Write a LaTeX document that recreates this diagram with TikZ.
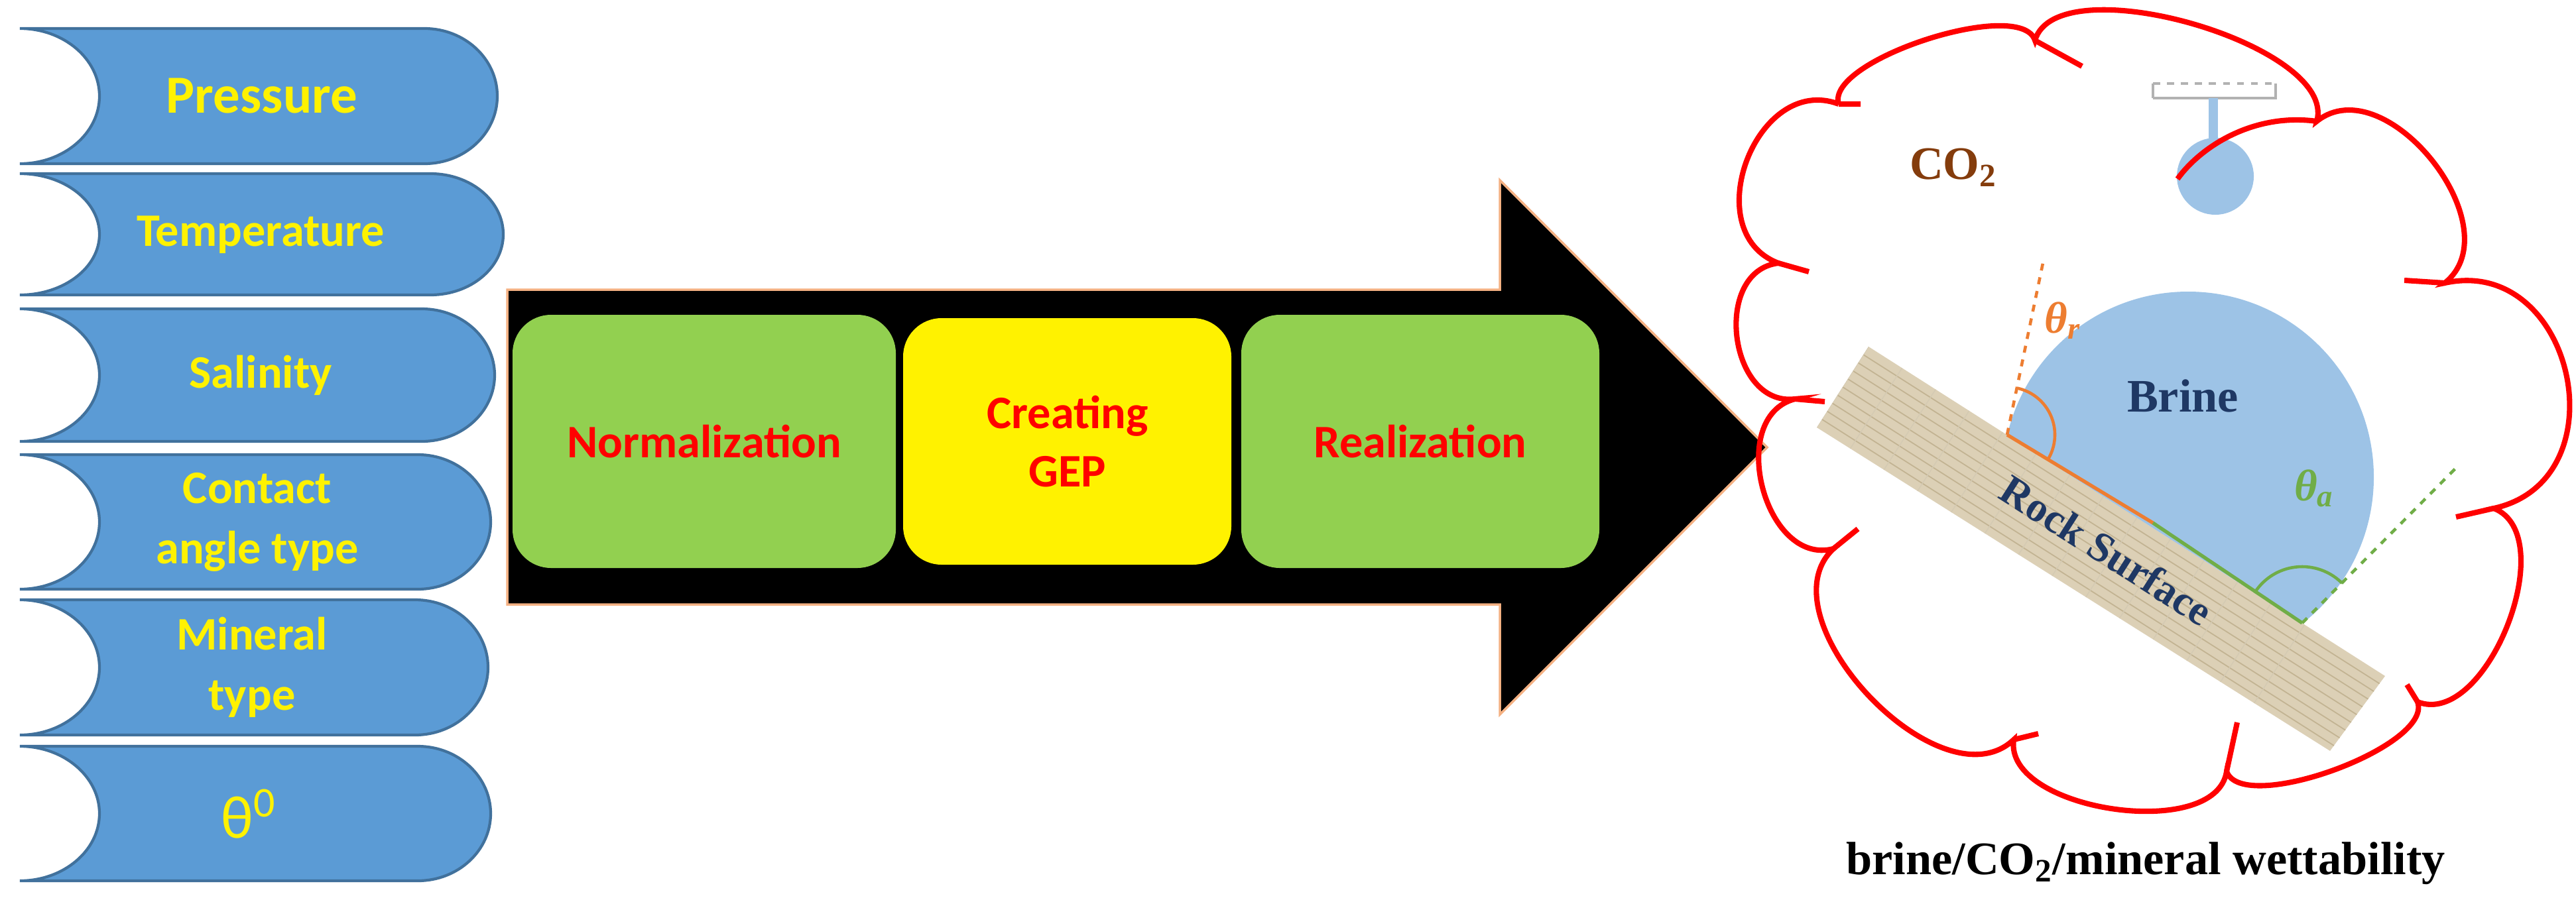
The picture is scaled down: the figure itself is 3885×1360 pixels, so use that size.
\documentclass[tikz,border=0pt]{standalone}
\usepackage{fontspec}
\usetikzlibrary{calc}
\setmainfont{Carlito}
\newfontfamily\tnr{Liberation Serif}
\definecolor{inblue}{HTML}{5B9BD5}
\definecolor{inedge}{HTML}{41719C}
\definecolor{boxgreen}{HTML}{92D050}
\definecolor{peach}{HTML}{F4B183}
\definecolor{dropblue}{HTML}{9DC3E6}
\definecolor{navy}{HTML}{1F3864}
\definecolor{co2brown}{HTML}{843C0C}
\definecolor{orng}{HTML}{ED7D31}
\definecolor{grn}{HTML}{70AD47}
\definecolor{rock}{HTML}{DCD0B6}
\definecolor{rockline}{HTML}{C2B392}
\newcommand\myinshape[3]{%
  \pgfmathsetmacro\mM{(#1+#2)/2}\pgfmathsetmacro\mH{(#2-#1)/2*0.55}%
  \path[inshape] (30,#1) -- (#3-110,#1) .. controls (#3-49,#1) and (#3,\mM-\mH) .. (#3,\mM)
    .. controls (#3,\mM+\mH) and (#3-49,#2) .. (#3-110,#2) -- (30,#2)
    .. controls (96,#2) and (150,\mM+\mH) .. (150,\mM)
    .. controls (150,\mM-\mH) and (96,#1) .. cycle;}
\begin{document}
\begin{tikzpicture}[x=0.01cm,y=-0.01cm,
  inshape/.style={fill=inblue,draw=inedge,line width=1.2pt},
  inlabel/.style={text=yellow,font=\bfseries\fontsize{20}{26}\selectfont,align=center},
  stepbox/.style={rounded corners=0.58cm},
  steplabel/.style={text=red,font=\bfseries\fontsize{20}{25}\selectfont,align=center},
  cloud/.style={draw=red,line width=2.3pt},
  serifbold/.style={font=\tnr\bfseries\fontsize{20}{24}\selectfont}]
\useasboundingbox (0,0) rectangle (3885,1360);
% input shapes
\myinshape{43}{247}{750}
\myinshape{262}{445}{759}
\myinshape{466}{666}{746}
\myinshape{686}{889}{740}
\myinshape{905}{1109}{736}
\myinshape{1126}{1329}{740}
\node[inlabel,font=\bfseries\fontsize{23}{28}\selectfont] (p1) at (395,145) {Pressure};
\node[inlabel] (p2) at (393,354) {Temperature};
\node[inlabel] (p3) at (393,566) {Salinity};
\node[inlabel] (p4) at (388,788) {Contact\\angle type};
\node[inlabel] (p5) at (380,1007) {Mineral\\type};
\node[inlabel,font=\fontsize{26}{30}\selectfont] (p6) at (375,1228) {θ\textsuperscript{0}};
% big arrow
\draw[fill=black,draw=peach,line width=1pt] (765,437) -- (2262,437) -- (2262,272) -- (2665,675)
  -- (2262,1078) -- (2262,912) -- (765,912) -- cycle;
\fill[boxgreen,stepbox] (773,475) rectangle (1351,857);
\fill[yellow,stepbox] (1362,480) rectangle (1857,852);
\fill[boxgreen,stepbox] (1872,475) rectangle (2412,857);
\node[steplabel] (s1) at (1062,666) {Normalization};
\node[steplabel] (s2) at (1610,666) {Creating\\GEP};
\node[steplabel] (s3) at (2142,666) {Realization};
% rock slab
\begin{scope}
\clip (2818,523) -- (3597,1020) -- (3514,1133) -- (2740,645) -- cycle;
\fill[rock] (2700,400) rectangle (3700,1200);
\foreach \t in {0.1,0.2,...,0.95}{
  \draw[rockline,line width=0.5pt] ($(2818,523)!\t!(2740,645)$) -- ++(800,510);}
\foreach \s in {0,60,...,800}{
  \draw[rockline!70,line width=0.4pt] (2818+\s*0.843,523+\s*0.538) -- ++(-90,140);}
\end{scope}
% brine drop
\begin{scope}
\clip (2700,448) -- (3900,1213) -- (3900,0) -- (2700,0) -- cycle;
\fill[dropblue] (3300,720) circle[radius=280];
\end{scope}
\coordinate (cr) at (3027,656);
\coordinate (ca) at (3472,940);
\draw[orng,line width=1.5pt] (cr) -- (3247,789);
\draw[grn,line width=1.5pt] (3247,789) -- (ca);
\draw[orng,line width=1.3pt,dashed] (cr) -- (3082,392);
\draw[orng,line width=1.3pt] ($(cr)+(-78:72)$) arc[start angle=-78,end angle=32.5,radius=72];
\draw[grn,line width=1.3pt,dashed] (ca) -- (3704,706);
\draw[grn,line width=1.3pt] ($(ca)+(-45:85)$) arc[start angle=-45,end angle=-147.5,radius=85];
\node[serifbold,text=navy] (brine) at (3292,597) {Brine};
\node[serifbold,text=orng,font=\tnr\bfseries\itshape\fontsize{19}{22}\selectfont] (thr) at (3111,484) {θ\textsubscript{r}};
\node[serifbold,text=grn,font=\tnr\bfseries\itshape\fontsize{19}{22}\selectfont] (tha) at (3490,737) {θ\textsubscript{a}};
\node[serifbold,text=navy,font=\tnr\bfseries\fontsize{18}{22}\selectfont,rotate=-32.5] (rs) at (3177,830) {Rock Surface};
% small drop and holder
\draw[gray!60,line width=1pt] (3247,148) -- (3247,126) (3432,126) -- (3432,148) -- (3247,148);
\draw[gray!60,line width=1pt,dashed] (3247,126) -- (3432,126);
\draw[dropblue,line width=4pt] (3338,148) -- (3338,212);
\fill[dropblue] (3341,266) circle[radius=58];
\node[serifbold,text=co2brown] (co2) at (2946,253) {CO\textsubscript{2}};
% cloud
\coordinate (J1) at (2773,157); \coordinate (J2) at (3069,61); \coordinate (J3) at (3494,183);
\coordinate (J4) at (3687,427); \coordinate (J5) at (3761,767); \coordinate (J6) at (3646,1059);
\coordinate (J7) at (3358,1164); \coordinate (J8) at (3037,1116); \coordinate (J9) at (2765,828);
\coordinate (J10) at (2707,602); \coordinate (J11) at (2682,397);
\draw[cloud] (J1) .. controls (2752,91) and (3048,-5) .. (J2)
  .. controls (3102,-54) and (3527,68) .. (J3)
  .. controls (3598,100) and (3791,344) .. (J4)
  .. controls (3882,384) and (3956,724) .. (J5)
  .. controls (3865,808) and (3750,1100) .. (J6)
  .. controls (3670,1126) and (3382,1231) .. (J7)
  .. controls (3342,1271) and (3021,1223) .. (J8)
  .. controls (2927,1220) and (2655,932) .. (J9)
  .. controls (2661,855) and (2603,629) .. (J10)
  .. controls (2607,614) and (2582,409) .. (J11)
  .. controls (2558,350) and (2649,110) .. (J1);
\draw[cloud] (J1) -- (2806,157) (J2) -- (3140,100) (J4) -- (3626,423) (J5) -- (3704,780)
  (J6) -- (3630,1033) (J7) -- (3374,1090) (J8) -- (3074,1107) (J9) -- (2802,798)
  (J10) -- (2752,606) (J11) -- (2728,410);
\draw[cloud] (J3) .. controls (3400,170) and (3320,220) .. (3284,270);
\node[serifbold,font=\tnr\bfseries\fontsize{20}{24}\selectfont] (cap) at (3236,1303) {brine/CO\textsubscript{2}/mineral wettability};
\end{tikzpicture}
\end{document}
